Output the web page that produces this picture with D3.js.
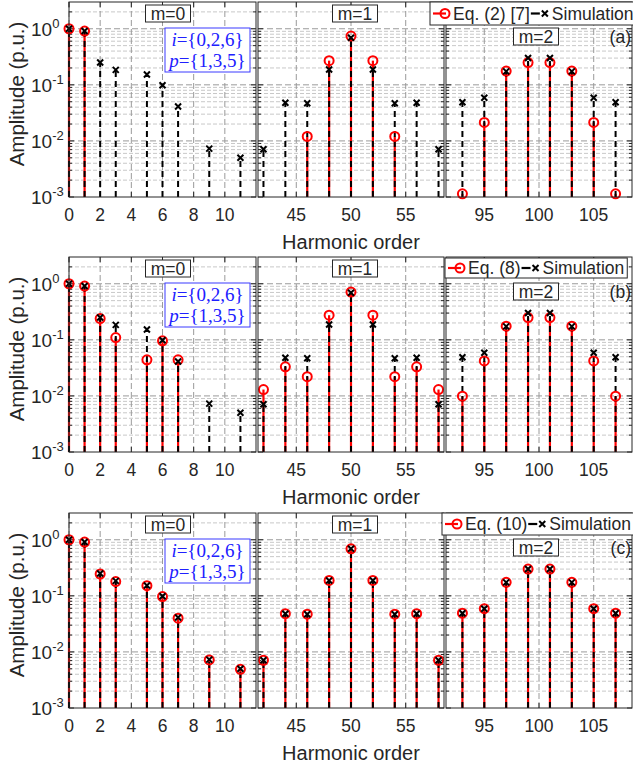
<!DOCTYPE html>
<html>
<head>
<meta charset="utf-8">
<script src="https://cdn.jsdelivr.net/npm/d3@7"></script>
<style>
  body { margin: 0; background: #fff; }
  svg { display: block; font-family: "Liberation Sans", Arial, sans-serif; }
</style>
</head>
<body>
<script>
// harmonic orders per sideband group
var order0 = [0, 1, 2, 3, 5, 6, 7, 9, 11];
var order1 = [42, 44, 46, 48, 50, 52, 54, 56, 58];
var order2 = [93, 95, 97, 99, 101, 103, 105, 107];

// simulation amplitudes (p.u.)
var sim0 = [1.0, 0.91, 0.25, 0.185, 0.153, 0.098, 0.041, 0.0073, 0.005];
var sim1 = [0.0071, 0.048, 0.047, 0.188, 0.69, 0.188, 0.047, 0.048, 0.0071];
var sim2 = [0.049, 0.059, 0.174, 0.30, 0.30, 0.174, 0.059, 0.049];

// equation amplitudes, (a) Eq. (2) [7]
var eqA0 = [1.0, 0.91, null, null, null, null, null, null, null];
var eqA1 = [null, null, 0.012, 0.27, 0.74, 0.27, 0.012, null, null];
var eqA2 = [0.00114, 0.0214, 0.176, 0.25, 0.25, 0.176, 0.0214, 0.00114];

// (b) Eq. (8)
var eqB0 = [1.0, 0.91, 0.24, 0.11, 0.044, 0.096, 0.044, null, null];
var eqB1 = [0.013, 0.033, 0.022, 0.275, 0.71, 0.275, 0.022, 0.033, 0.013];
var eqB2 = [0.0099, 0.042, 0.175, 0.25, 0.25, 0.175, 0.042, 0.0099];

// (c) Eq. (10)
var eqC0 = [1.0, 0.91, 0.245, 0.18, 0.152, 0.097, 0.04, 0.0072, 0.0049];
var eqC1 = [0.0071, 0.048, 0.047, 0.188, 0.69, 0.188, 0.047, 0.048, 0.0071];
var eqC2 = [0.049, 0.059, 0.174, 0.30, 0.30, 0.174, 0.059, 0.049];

var mLabels = ["m=0", "m=1", "m=2"];
var rowLabels = ["(a)", "(b)", "(c)"];
var legendLabels = ["Eq. (2) [7]", "Eq. (8)", "Eq. (10)"];
var xTicks0 = [0, 2, 4, 6, 8, 10];
var xTicks1 = [45, 50, 55];
var xTicks2 = [95, 100, 105];
var yTicks = [1e-3, 1e-2, 1e-1, 1];

var orders = [order0, order1, order2];
var sims = [sim0, sim1, sim2];
var eqs = [[eqA0, eqA1, eqA2], [eqB0, eqB1, eqB2], [eqC0, eqC1, eqC2]];
var xTicks = [xTicks0, xTicks1, xTicks2];

var width = 633, height = 765;
var rowTop = [2, 257, 513];
var plotH = 195;
var colX = [[69, 256], [258, 444], [446, 632]];
var xDomains = [[0, 12], [41.5, 58.5], [91.5, 108.5]];
var legendX = [430, 445, 442];
var legendY = [2, 258, 513];
var legendH = [23, 20, 22];
var txt = "#262626";

var svg = d3.select("body").append("svg")
    .attr("width", width)
    .attr("height", height);

var minorVals = [];
[-3, -2, -1, 0].forEach(function(e) {
  for (var k = 2; k <= 9; k++) {
    var v = k * Math.pow(10, e);
    if (v < 3) minorVals.push(v);
  }
});

rowTop.forEach(function(top, r) {
  var y = d3.scaleLog().domain([1e-3, 3]).range([top + plotH, top]);
  var bottom = top + plotH;

  colX.forEach(function(cx, c) {
    var x = d3.scaleLinear().domain(xDomains[c]).range(cx);
    var g = svg.append("g");
    var w = cx[1] - cx[0];

    g.append("rect").attr("x", cx[0]).attr("y", top)
      .attr("width", w).attr("height", plotH).attr("fill", "#fff");

    // grid
    g.selectAll(".gminor").data(minorVals).enter().append("line")
      .attr("x1", cx[0]).attr("x2", cx[1])
      .attr("y1", function(d) { return y(d); }).attr("y2", function(d) { return y(d); })
      .attr("stroke", "#c8c8c8").attr("stroke-width", 1)
      .attr("stroke-dasharray", "4,2");
    g.selectAll(".gmajor").data(yTicks.slice(1)).enter().append("line")
      .attr("x1", cx[0]).attr("x2", cx[1])
      .attr("y1", function(d) { return y(d); }).attr("y2", function(d) { return y(d); })
      .attr("stroke", "#9a9a9a").attr("stroke-width", 1)
      .attr("stroke-dasharray", "6,3");
    g.selectAll(".gx").data(xTicks[c]).enter().append("line")
      .attr("x1", function(d) { return x(d); }).attr("x2", function(d) { return x(d); })
      .attr("y1", top).attr("y2", bottom)
      .attr("stroke", "#9a9a9a").attr("stroke-width", 1)
      .attr("stroke-dasharray", "6,3");

    // ticks (inside, both sides)
    yTicks.concat(minorVals).forEach(function(v) {
      var len = yTicks.indexOf(v) >= 0 ? 5 : 3;
      var yy = y(v);
      g.append("line").attr("x1", cx[0]).attr("x2", cx[0] + len)
        .attr("y1", yy).attr("y2", yy).attr("stroke", txt);
      g.append("line").attr("x1", cx[1]).attr("x2", cx[1] - len)
        .attr("y1", yy).attr("y2", yy).attr("stroke", txt);
    });
    xTicks[c].forEach(function(v) {
      g.append("line").attr("x1", x(v)).attr("x2", x(v))
        .attr("y1", bottom).attr("y2", bottom - 5).attr("stroke", txt);
      g.append("line").attr("x1", x(v)).attr("x2", x(v))
        .attr("y1", top).attr("y2", top + 5).attr("stroke", txt);
    });

    // stems
    var ord = orders[c], sim = sims[c], eq = eqs[r][c];
    var eqPts = ord.map(function(h, i) { return {h: h, v: eq[i]}; })
      .filter(function(d) { return d.v != null; });
    var simPts = ord.map(function(h, i) { return {h: h, v: sim[i]}; });

    g.selectAll(".eqstem").data(eqPts).enter().append("line")
      .attr("x1", function(d) { return x(d.h); }).attr("x2", function(d) { return x(d.h); })
      .attr("y1", bottom).attr("y2", function(d) { return y(d.v); })
      .attr("stroke", "#ff0000").attr("stroke-width", 2.2);
    g.selectAll(".simstem").data(simPts).enter().append("line")
      .attr("x1", function(d) { return x(d.h); }).attr("x2", function(d) { return x(d.h); })
      .attr("y1", bottom).attr("y2", function(d) { return y(d.v); })
      .attr("stroke", "#000").attr("stroke-width", 2)
      .attr("stroke-dasharray", "6,4");
    g.selectAll(".eqmark").data(eqPts).enter().append("circle")
      .attr("cx", function(d) { return x(d.h); }).attr("cy", function(d) { return y(d.v); })
      .attr("r", 4.5).attr("fill", "none")
      .attr("stroke", "#ff0000").attr("stroke-width", 2);
    var xm = g.selectAll(".simmark").data(simPts).enter().append("path")
      .attr("d", function(d) {
        var px = x(d.h), py = y(d.v), s = 3;
        return "M" + (px - s) + "," + (py - s) + "L" + (px + s) + "," + (py + s) +
               "M" + (px - s) + "," + (py + s) + "L" + (px + s) + "," + (py - s);
      })
      .attr("stroke", "#000").attr("stroke-width", 2).attr("fill", "none");

    // frame
    g.append("rect").attr("x", cx[0]).attr("y", top)
      .attr("width", w).attr("height", plotH)
      .attr("fill", "none").attr("stroke", txt).attr("stroke-width", 1);

    // x tick labels
    g.selectAll(".xl").data(xTicks[c]).enter().append("text")
      .attr("x", function(d) { return x(d); }).attr("y", bottom + 24)
      .attr("text-anchor", "middle").attr("font-size", 17.5).attr("fill", txt)
      .text(function(d) { return d; });

    // m label box
    var mcx = c === 0 ? cx[0] + 99 : c === 1 ? cx[0] + 97 : cx[0] + 90;
    var mty = c === 2 ? top + 26 : top + 3;
    g.append("rect").attr("x", mcx - 22.5).attr("y", mty)
      .attr("width", 45).attr("height", 17)
      .attr("fill", "#fff").attr("stroke", txt).attr("stroke-width", 1);
    g.append("text").attr("x", mcx).attr("y", mty + 14.5)
      .attr("text-anchor", "middle").attr("font-size", 17.5).attr("fill", txt)
      .text(mLabels[c]);
  });

  // y tick labels
  yTicks.forEach(function(v) {
    var e = Math.round(Math.log10(v));
    var t = svg.append("text").attr("x", 31).attr("y", y(v) + 7)
      .attr("font-size", 19).attr("fill", txt);
    t.append("tspan").text("10");
    t.append("tspan").attr("dy", -8).attr("font-size", 13).text(e);
  });

  // axis titles
  svg.append("text")
    .attr("transform", "translate(24," + (top + 92) + ") rotate(-90)")
    .attr("text-anchor", "middle").attr("font-size", 20.5).attr("fill", txt)
    .text("Amplitude (p.u.)");
  svg.append("text").attr("x", 351).attr("y", bottom + 52)
    .attr("text-anchor", "middle").attr("font-size", 20).attr("fill", txt)
    .text("Harmonic order");

  // i / p box
  var ib = svg.append("g");
  ib.append("rect").attr("x", 165).attr("y", top + 26)
    .attr("width", 85).attr("height", 44)
    .attr("fill", "#fff").attr("stroke", "#3a3aff").attr("stroke-width", 1);
  [["i", "={0,2,6}"], ["p", "={1,3,5}"]].forEach(function(p, k) {
    var t = ib.append("text").attr("x", 207.5).attr("y", top + 44 + k * 21)
      .attr("text-anchor", "middle")
      .attr("font-family", "'Liberation Serif', 'Times New Roman', serif")
      .attr("font-size", 19).attr("fill", "#2020ff");
    t.append("tspan").attr("font-style", "italic").text(p[0]);
    t.append("tspan").text(p[1]);
  });

  // row label
  svg.append("text").attr("x", 631).attr("y", top + 41)
    .attr("text-anchor", "end").attr("font-size", 17.5).attr("fill", txt)
    .text(rowLabels[r]);

  // legend
  var lg = svg.append("g").attr("transform", "translate(" + legendX[r] + "," + legendY[r] + ")");
  var lh = legendH[r], my = lh / 2;
  var box = lg.append("rect").attr("x", 0).attr("y", 0).attr("height", lh)
    .attr("fill", "#fff").attr("stroke", txt).attr("stroke-width", 1);
  lg.append("line").attr("x1", 3).attr("x2", 16).attr("y1", my).attr("y2", my)
    .attr("stroke", "#ff0000").attr("stroke-width", 2.2);
  lg.append("circle").attr("cx", 15).attr("cy", my).attr("r", 4.5)
    .attr("fill", "none").attr("stroke", "#ff0000").attr("stroke-width", 2);
  var t1 = lg.append("text").attr("x", 23).attr("y", my + 6)
    .attr("font-size", 17.5).attr("fill", txt).text(legendLabels[r]);
  var bx = 23 + t1.node().getComputedTextLength() + 1;
  lg.append("line").attr("x1", bx).attr("x2", bx + 9).attr("y1", my).attr("y2", my)
    .attr("stroke", "#000").attr("stroke-width", 2.2);
  lg.append("path")
    .attr("d", "M" + (bx + 11) + "," + (my - 3) + "L" + (bx + 17) + "," + (my + 3) +
               "M" + (bx + 11) + "," + (my + 3) + "L" + (bx + 17) + "," + (my - 3))
    .attr("stroke", "#000").attr("stroke-width", 2);
  var t2 = lg.append("text").attr("x", bx + 21).attr("y", my + 6)
    .attr("font-size", 17.5).attr("fill", txt).text("Simulation");
  box.attr("width", bx + 21 + t2.node().getComputedTextLength() + 3);
});
</script>
</body>
</html>
